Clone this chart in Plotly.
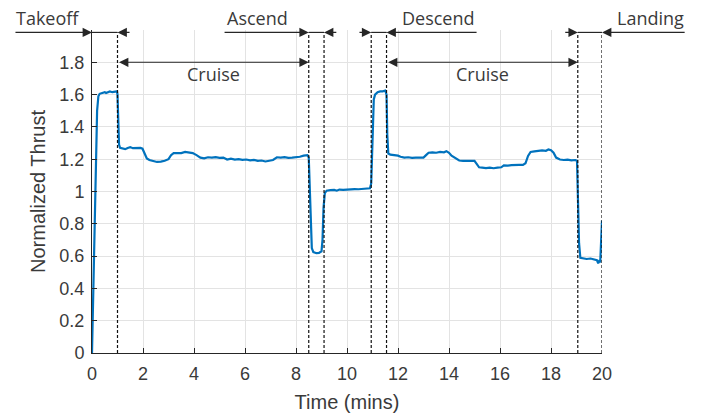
import plotly.graph_objects as go

# ---------------- data ----------------
time_min = [
    0.00, 0.05, 0.10, 0.15, 0.20, 0.25, 0.30, 0.40, 0.50, 0.55, 0.60, 0.70, 0.80, 0.90, 0.98,
    1.00, 1.03, 1.06, 1.10, 1.20, 1.30, 1.40, 1.50, 1.60, 1.70, 1.80, 1.90, 1.98,
    2.05, 2.15, 2.25, 2.40, 2.55, 2.70, 2.85, 3.00, 3.10, 3.20, 3.35, 3.50, 3.65, 3.80, 3.95,
    4.10, 4.25, 4.40, 4.55, 4.70, 4.85, 5.00, 5.15, 5.30, 5.45, 5.60, 5.75, 5.90, 6.05, 6.20,
    6.35, 6.50, 6.65, 6.80, 6.95, 7.10, 7.25, 7.40, 7.55, 7.70, 7.85, 8.00, 8.15, 8.30, 8.45,
    8.50, 8.54, 8.58, 8.62, 8.68, 8.80, 8.90, 9.00, 9.04, 9.08, 9.13, 9.20, 9.35, 9.50, 9.60,
    9.70, 9.85, 10.00, 10.15, 10.30, 10.45, 10.60, 10.75, 10.90, 10.95, 11.00, 11.05, 11.10,
    11.20, 11.30, 11.40, 11.50, 11.55, 11.58, 11.62, 11.70, 11.85, 12.00, 12.10, 12.25, 12.40,
    12.55, 12.70, 12.85, 13.00, 13.10, 13.20, 13.35, 13.50, 13.65, 13.80, 13.90, 14.00, 14.10,
    14.25, 14.40, 14.55, 14.70, 14.85, 15.00, 15.08, 15.18, 15.30, 15.45, 15.60, 15.75, 15.90,
    16.05, 16.15, 16.30, 16.45, 16.60, 16.75, 16.90, 17.00, 17.10, 17.20, 17.35, 17.50, 17.65,
    17.80, 17.90, 18.00, 18.10, 18.20, 18.35, 18.50, 18.65, 18.80, 18.95, 19.02, 19.06, 19.10,
    19.15, 19.25, 19.40, 19.55, 19.70, 19.80, 19.85, 19.90, 19.93, 19.97, 20.00,
]
thrust = [
    0.00, 0.38, 0.80, 1.20, 1.50, 1.59, 1.605, 1.61, 1.615, 1.61, 1.615, 1.62, 1.615, 1.62, 1.62,
    1.60, 1.40, 1.29, 1.27, 1.265, 1.262, 1.27, 1.275, 1.268, 1.27, 1.268, 1.27, 1.265,
    1.24, 1.205, 1.195, 1.188, 1.183, 1.185, 1.19, 1.20, 1.225, 1.238, 1.24, 1.238, 1.245, 1.243, 1.238,
    1.225, 1.21, 1.205, 1.212, 1.21, 1.213, 1.208, 1.21, 1.198, 1.203, 1.198, 1.20, 1.196, 1.198, 1.193,
    1.196, 1.19, 1.192, 1.186, 1.19, 1.195, 1.212, 1.21, 1.213, 1.208, 1.21, 1.212, 1.215, 1.222, 1.225,
    1.21, 1.00, 0.75, 0.65, 0.625, 0.618, 0.62, 0.63, 0.70, 0.90, 0.99, 1.005, 1.008, 1.01, 1.005,
    1.012, 1.01, 1.013, 1.012, 1.015, 1.014, 1.017, 1.016, 1.02, 1.05, 1.40, 1.57, 1.60,
    1.615, 1.62, 1.62, 1.625, 1.60, 1.35, 1.235, 1.228, 1.225, 1.222, 1.215, 1.21, 1.212,
    1.208, 1.21, 1.212, 1.21, 1.225, 1.24, 1.242, 1.24, 1.245, 1.243, 1.25, 1.24, 1.222,
    1.205, 1.192, 1.19, 1.192, 1.19, 1.19, 1.17, 1.15, 1.148, 1.145, 1.148, 1.144, 1.148,
    1.15, 1.162, 1.16, 1.163, 1.162, 1.165, 1.165, 1.175, 1.22, 1.245, 1.248, 1.25, 1.255,
    1.252, 1.26, 1.255, 1.24, 1.21, 1.198, 1.195, 1.197, 1.193, 1.195, 1.19, 0.95, 0.68,
    0.59, 0.585, 0.582, 0.585, 0.58, 0.575, 0.555, 0.575, 0.56, 0.70, 0.82,
]

x_ticks = [0, 2, 4, 6, 8, 10, 12, 14, 16, 18, 20]
y_ticks = [0, 0.2, 0.4, 0.6, 0.8, 1.0, 1.2, 1.4, 1.6, 1.8]
y_tick_labels = ["0", "0.2", "0.4", "0.6", "0.8", "1", "1.2", "1.4", "1.6", "1.8"]

# phase boundaries (minutes)
boundaries = [1.0, 8.5, 9.1, 10.95, 11.55, 19.05, 20.0]
phase_row_y = 1.985
cruise_row_y = 1.8

phase_labels = ["Takeoff", "Ascend", "Descend", "Landing"]
phase_label_x = [-1.75, 6.5, 13.6, 21.9]
right_arrows = [(-3.06, 0.0), (5.14, 8.5), (10.43, 10.95), (18.5, 19.05)]
left_arrows = [(1.53, 1.0), (9.64, 9.1), (15.14, 11.55), (23.3, 20.0)]
dim_lines = [(0.0, 1.0), (8.5, 9.1), (10.95, 11.55), (19.05, 20.0)]
cruise_spans = [(1.0, 8.5), (11.55, 19.05)]

XR = [0, 20]
YR = [0, 2]

INK = "#262626"
TXT = "#3a3a3a"

fig = go.Figure()
fig.add_trace(go.Scatter(
    x=time_min, y=thrust, mode="lines",
    line=dict(color="#0072BD", width=2.2),
    showlegend=False, hoverinfo="skip",
))

shapes = []
for b in boundaries:
    shapes.append(dict(type="line", xref="x", yref="y", x0=b, x1=b, y0=0, y1=phase_row_y,
                       line=dict(color="#111111", width=1.2, dash="3px,2px"), layer="above"))
for a, b in dim_lines:
    shapes.append(dict(type="line", xref="x", yref="y", x0=a, x1=b, y0=phase_row_y, y1=phase_row_y,
                       line=dict(color=INK, width=1.2), layer="above"))

annotations = []
arrow_common = dict(xref="x", yref="y", axref="x", ayref="y", text="", showarrow=True,
                    arrowhead=2, arrowsize=1.7, arrowwidth=1.1, arrowcolor=INK, standoff=0)
for tail, head in right_arrows + left_arrows:
    annotations.append(dict(x=head, y=phase_row_y, ax=tail, ay=phase_row_y, **arrow_common))
for a, b in cruise_spans:
    annotations.append(dict(x=b, y=cruise_row_y, ax=a, ay=cruise_row_y, arrowside="end+start",
                            **arrow_common))
    annotations.append(dict(xref="paper", yref="paper", x=(a + b) / 2 / XR[1],
                            y=1.73 / YR[1], text="Cruise", showarrow=False,
                            xanchor="center", yanchor="middle",
                            font=dict(family="Open Sans", size=18, color=TXT)))
for txt, cx in zip(phase_labels, phase_label_x):
    annotations.append(dict(xref="paper", yref="paper", x=cx / XR[1], y=2.075 / YR[1],
                            text=txt, showarrow=False, xanchor="center", yanchor="middle",
                            borderpad=0,
                            font=dict(family="Open Sans", size=18, color=TXT)))

fig.update_layout(
    width=703, height=413,
    margin=dict(l=92, r=101, t=29.6, b=60),
    paper_bgcolor="white", plot_bgcolor="white",
    shapes=shapes, annotations=annotations,
    showlegend=False,
)
fig.update_xaxes(
    range=XR, tickvals=x_ticks, ticktext=[str(v) for v in x_ticks],
    showgrid=True, gridcolor="#e3e3e3", gridwidth=1,
    showline=True, linecolor=INK, linewidth=1, mirror=False,
    ticks="inside", ticklen=5, tickcolor=INK, ticklabelstandoff=4,
    tickfont=dict(family="Liberation Sans, Arial", size=18, color=TXT),
    title=dict(text="Time (mins)", font=dict(family="Liberation Sans, Arial", size=20, color=TXT),
               standoff=12),
    zeroline=False, automargin=False,
)
fig.update_yaxes(
    range=YR, tickvals=y_ticks, ticktext=y_tick_labels,
    showgrid=True, gridcolor="#e3e3e3", gridwidth=1,
    showline=True, linecolor=INK, linewidth=1, mirror=False,
    ticks="inside", ticklen=5, tickcolor=INK, ticklabelstandoff=3,
    tickfont=dict(family="Liberation Sans, Arial", size=18, color=TXT),
    title=dict(text="Normalized Thrust", font=dict(family="Liberation Sans, Arial", size=20, color=TXT),
               standoff=8),
    zeroline=False, automargin=False,
)

fig.write_html("out.html", config={"displayModeBar": False},
               post_script="document.body.style.margin='0px';")
